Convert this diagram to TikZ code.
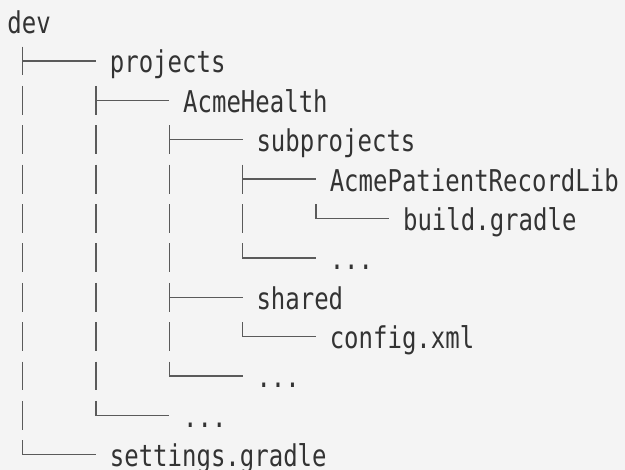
\documentclass[tikz,border=0pt]{standalone}
\usepackage{fontspec}
\newfontfamily\treefont[FakeStretch=0.8]{DejaVu Sans Mono}
\definecolor{bgc}{HTML}{F4F4F4}
\definecolor{txt}{HTML}{333333}
\definecolor{lnc}{HTML}{5A5A5A}
\tikzset{
  treeline/.style={draw=lnc, line width=1.3pt},
  entry/.style={anchor=base west, inner sep=0pt, text=txt, font=\treefont\fontsize{30}{36}\selectfont},
}
\newcommand{\colx}[1]{22.7+73.3*#1}
\newcommand{\rowy}[1]{21.6+39.38*#1}
% vertical pass-through bar
\newcommand{\TrV}[2]{\draw[treeline] ({\colx{#1}},{\rowy{#2}-14.4}) -- ({\colx{#1}},{\rowy{#2}+14.4});}
% tee
\newcommand{\TrT}[2]{\draw[treeline] ({\colx{#1}},{\rowy{#2}-14.4}) -- ({\colx{#1}},{\rowy{#2}+14.4});
  \draw[treeline] ({\colx{#1}},{\rowy{#2}}) -- ({\colx{#1}+73.2},{\rowy{#2}});}
% corner
\newcommand{\TrL}[2]{\draw[treeline] ({\colx{#1}},{\rowy{#2}-14.4}) -- ({\colx{#1}},{\rowy{#2}}) -- ({\colx{#1}+73.2},{\rowy{#2}});}
\begin{document}
\begin{tikzpicture}[x=1pt,y=-1pt]
\fill[bgc] (0,0) rectangle (625,470);
\useasboundingbox (0,0) rectangle (625,470);
% text entries
\node[entry] (dev) at (7.3,{\rowy{0}+11.9}) {dev};
\node[entry] (projects) at ({\colx{0}+87},{\rowy{1}+11.9}) {projects};
\node[entry] (acme) at ({\colx{1}+87},{\rowy{2}+11.9}) {AcmeHealth};
\node[entry] (sub) at ({\colx{2}+87},{\rowy{3}+11.9}) {subprojects};
\node[entry] (lib) at ({\colx{3}+87},{\rowy{4}+11.9}) {AcmePatientRecordLib};
\node[entry] (build) at ({\colx{4}+87},{\rowy{5}+11.9}) {build.gradle};
\node[entry] (dots1) at ({\colx{3}+87},{\rowy{6}+11.9}) {...};
\node[entry] (shared) at ({\colx{2}+87},{\rowy{7}+11.9}) {shared};
\node[entry] (config) at ({\colx{3}+87},{\rowy{8}+11.9}) {config.xml};
\node[entry] (dots2) at ({\colx{2}+87},{\rowy{9}+11.9}) {...};
\node[entry] (dots3) at ({\colx{1}+87},{\rowy{10}+11.9}) {...};
\node[entry] (settings) at ({\colx{0}+87},{\rowy{11}+11.9}) {settings.gradle};
% tree lines
\TrT{0}{1}
\TrV{0}{2} \TrT{1}{2}
\TrV{0}{3} \TrV{1}{3} \TrT{2}{3}
\TrV{0}{4} \TrV{1}{4} \TrV{2}{4} \TrT{3}{4}
\TrV{0}{5} \TrV{1}{5} \TrV{2}{5} \TrV{3}{5} \TrL{4}{5}
\TrV{0}{6} \TrV{1}{6} \TrV{2}{6} \TrL{3}{6}
\TrV{0}{7} \TrV{1}{7} \TrT{2}{7}
\TrV{0}{8} \TrV{1}{8} \TrV{2}{8} \TrL{3}{8}
\TrV{0}{9} \TrV{1}{9} \TrL{2}{9}
\TrV{0}{10} \TrL{1}{10}
\TrL{0}{11}
\end{tikzpicture}
\end{document}
